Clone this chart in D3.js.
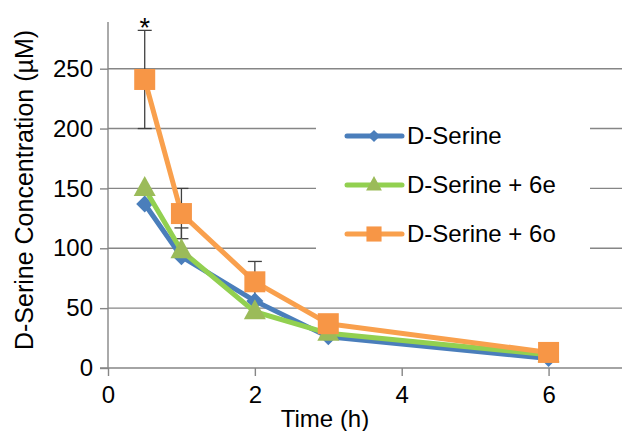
<!DOCTYPE html>
<html>
<head>
<meta charset="utf-8">
<script src="https://cdn.jsdelivr.net/npm/d3@7"></script>
<style>
  html, body { margin: 0; padding: 0; background: #fff; }
  svg text { font-family: "Liberation Sans", Arial, sans-serif; fill: #000; }
</style>
</head>
<body>
<svg id="chart" width="622" height="431"></svg>
<script>
// Data
var times = [0.5, 1, 2, 3, 6];
var seriesNames = ['D-Serine', 'D-Serine + 6e', 'D-Serine + 6o'];
var dSerine   = [137, 93, 56, 26, 8];
var dSerine6e = [150, 98, 47, 29, 11];
var dSerine6o = [241, 129, 72, 37, 13];
// error bars (plus / minus)
var errUp6e  = [0, 19, 0, 0, 0];
var errUp6o  = [41, 21, 17, 3, 2];
var errLow6o = [41, 21, 17, 3, 2];
var xTicks = [0, 2, 4, 6];
var yTicks = [0, 50, 100, 150, 200, 250];

var svg = d3.select('#chart');
var gridColor = '#868686';

// scales
var x = d3.scaleLinear().domain([0, 7]).range([108, 622]);
var y = d3.scaleLinear().domain([0, 289]).range([368, 22]);

// gridlines
svg.append('g').selectAll('line')
  .data(yTicks.filter(function(d) { return d > 0; }))
  .enter().append('line')
  .attr('x1', x(0)).attr('x2', x(7))
  .attr('y1', function(d) { return y(d); })
  .attr('y2', function(d) { return y(d); })
  .attr('stroke', gridColor).attr('stroke-width', 1.4);

// y axis
var yAxis = d3.axisLeft(y).tickValues(yTicks).tickSize(8).tickPadding(6).tickFormat(d3.format('d'));
var gy = svg.append('g').attr('transform', 'translate(' + x(0) + ',0)').call(yAxis);
// x axis
var xAxis = d3.axisBottom(x).tickValues(xTicks).tickSize(8).tickPadding(10).tickFormat(d3.format('d'));
var gx = svg.append('g').attr('transform', 'translate(0,' + y(0) + ')').call(xAxis);

[gx, gy].forEach(function(g) {
  g.select('.domain').attr('stroke', gridColor).attr('stroke-width', 1.4);
  g.selectAll('.tick line').attr('stroke', gridColor).attr('stroke-width', 1.4);
  g.selectAll('.tick text').style('font-size', '24px')
    .style('font-family', '"Liberation Sans", Arial, sans-serif').attr('fill', '#000');
});
// the y axis line only starts at top of data area
gy.select('.domain').attr('d', 'M0,' + y(289) + 'V' + y(0));
gx.select('.domain').attr('d', 'M' + (x(0) - 8) + ',0H' + x(7));
gy.selectAll('.tick text').attr('dx', '-1');

// axis titles
svg.append('text')
  .attr('transform', 'translate(33,' + 190 + ') rotate(-90)')
  .attr('text-anchor', 'middle')
  .style('font-size', '25px')
  .text('D-Serine Concentration (µM)');

svg.append('text')
  .attr('x', 325).attr('y', 427)
  .attr('text-anchor', 'middle')
  .style('font-size', '24px')
  .text('Time (h)');

// legend background (hides gridlines)
svg.append('rect')
  .attr('x', 316).attr('y', 104)
  .attr('width', 274).attr('height', 166)
  .attr('fill', '#fff');

// error bars
function errorBars(vals, up, low) {
  var g = svg.append('g').attr('stroke', '#404040').attr('stroke-width', 1.3);
  times.forEach(function(t, i) {
    if (!(up && up[i]) && !(low && low[i])) return;
    var hi = vals[i] + (up ? up[i] : 0);
    var lo = vals[i] - (low ? low[i] : 0);
    g.append('line').attr('x1', x(t)).attr('x2', x(t)).attr('y1', y(hi)).attr('y2', y(lo));
    if (up) g.append('line').attr('x1', x(t) - 7).attr('x2', x(t) + 7).attr('y1', y(hi)).attr('y2', y(hi));
    if (low) g.append('line').attr('x1', x(t) - 7).attr('x2', x(t) + 7).attr('y1', y(lo)).attr('y2', y(lo));
  });
}
errorBars(dSerine6e, errUp6e, null);
errorBars(dSerine6o, errUp6o, errLow6o);

// significance star
svg.append('text')
  .attr('x', x(times[0])).attr('y', 37)
  .attr('text-anchor', 'middle')
  .style('font-size', '27px')
  .text('*');

// marker shapes
function markerPath(type, s) {
  if (type === 'diamond') {
    return 'M0,' + (-s) + 'L' + s + ',0L0,' + s + 'L' + (-s) + ',0Z';
  } else if (type === 'triangle') {
    return 'M0,' + (-s * 1.25) + 'L' + (s * 1.1) + ',' + (s * 0.75) + 'L' + (-s * 1.1) + ',' + (s * 0.75) + 'Z';
  }
  return 'M' + (-s) + ',' + (-s) + 'H' + s + 'V' + s + 'H' + (-s) + 'Z';
}

var series = [
  {name: seriesNames[0], values: dSerine,   line: '#4A7EBB', fill: '#4A7EBB', marker: 'diamond',  size: 8.5},
  {name: seriesNames[1], values: dSerine6e, line: '#92D050', fill: '#9BBB59', marker: 'triangle', size: 10},
  {name: seriesNames[2], values: dSerine6o, line: '#F9A04D', fill: '#F79646', marker: 'square',   size: 10.5}
];

var line = d3.line()
  .x(function(d, i) { return x(times[i]); })
  .y(function(d) { return y(d); });

series.forEach(function(s) {
  svg.append('path')
    .attr('d', line(s.values))
    .attr('fill', 'none')
    .attr('stroke', s.line)
    .attr('stroke-width', 5)
    .attr('stroke-linejoin', 'round')
    .attr('stroke-linecap', 'round');

  svg.append('g').selectAll('path')
    .data(s.values)
    .enter().append('path')
    .attr('transform', function(d, i) { return 'translate(' + x(times[i]) + ',' + y(d) + ')'; })
    .attr('d', markerPath(s.marker, s.size))
    .attr('fill', s.fill);
});

// legend
var legend = svg.append('g').selectAll('g')
  .data(series)
  .enter().append('g')
  .attr('transform', function(d, i) { return 'translate(0,' + (136 + i * 49) + ')'; });

legend.append('line')
  .attr('x1', 347).attr('x2', 402)
  .attr('stroke', function(d) { return d.line; })
  .attr('stroke-width', 5)
  .attr('stroke-linecap', 'round');

legend.append('path')
  .attr('transform', 'translate(374,0)')
  .attr('d', function(d) { return markerPath(d.marker, d.size * 0.72); })
  .attr('fill', function(d) { return d.fill; });

legend.append('text')
  .attr('x', 407).attr('y', 8)
  .style('font-size', '24px')
  .text(function(d) { return d.name; });
</script>
</body>
</html>
